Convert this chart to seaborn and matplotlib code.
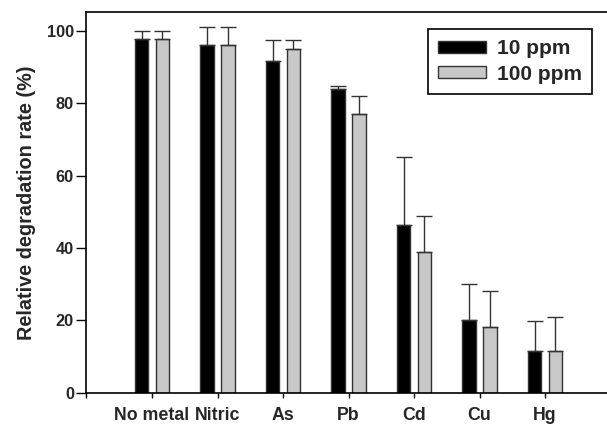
import numpy as np
import pandas as pd
import matplotlib
matplotlib.use("Agg")
import matplotlib.pyplot as plt
import seaborn as sns

metals = ["No metal", "Nitric", "As", "Pb", "Cd", "Cu", "Hg"]
series = ["10 ppm", "100 ppm"]
vals_10 = [97.9, 96.3, 91.8, 84.1, 46.3, 20.0, 11.4]
vals_100 = [97.9, 96.3, 95.0, 77.2, 38.8, 18.2, 11.4]
err_10 = [2.1, 4.9, 5.7, 0.6, 18.9, 10.2, 8.5]
err_100 = [2.1, 4.9, 2.5, 4.9, 10.1, 10.0, 9.4]
yticks = [0, 20, 40, 60, 80, 100]

df = pd.DataFrame({
    "metal": metals * 2,
    "conc": [series[0]] * len(metals) + [series[1]] * len(metals),
    "value": vals_10 + vals_100,
})

sns.set_theme(style="ticks")
plt.rcParams["font.family"] = ["Liberation Sans", "DejaVu Sans"]
plt.rcParams["font.weight"] = "bold"

fig = plt.figure(figsize=(6.07, 4.25), dpi=100)
ax = fig.add_axes([0.1425, 0.076, 0.8633, 0.895])

sns.barplot(data=df, x="metal", y="value", hue="conc", order=metals,
            hue_order=series, palette=["black", "#c8c8c8"], width=0.64,
            gap=0.34, errorbar=None, edgecolor="#333333", linewidth=1.0,
            saturation=1, ax=ax)

for cont, errs in zip(ax.containers, [err_10, err_100]):
    xs = [b.get_x() + b.get_width() / 2 for b in cont]
    hs = [b.get_height() for b in cont]
    ax.errorbar(xs, hs, yerr=[np.zeros(len(errs)), errs], fmt="none",
                ecolor="#333333", elinewidth=1.0, capsize=5.5, capthick=1.0,
                zorder=1)

ax.set_xlim(-1, 7)
ax.set_ylim(0, 105.2)
ax.set_xticks(range(-1, 8))
ax.set_xticklabels([""] + metals + [""], fontsize=12.8, fontweight="bold")
ax.set_yticks(yticks)
ax.set_yticklabels([str(t) for t in yticks], fontsize=11.8, fontweight="bold")
ax.set_xlabel("")
ax.set_ylabel("Relative degradation rate (%)", fontsize=14.3, fontweight="bold",
              labelpad=8)
ax.tick_params(axis="x", direction="out", length=3.5, width=1.0, color="black",
               pad=7)
ax.tick_params(axis="y", direction="out", length=7, width=1.0, color="black",
               pad=2)
for s in ["left", "bottom", "top", "right"]:
    ax.spines[s].set_visible(True)
    ax.spines[s].set_color("black")
    ax.spines[s].set_linewidth(1.2)

handles, labels = ax.get_legend_handles_labels()
leg = ax.legend(handles, labels, loc="upper right", bbox_to_anchor=(0.965, 0.956),
                borderaxespad=0, fancybox=False, frameon=True, framealpha=1,
                edgecolor="black", handlelength=2.3, handleheight=0.5,
                labelspacing=0.3, handletextpad=0.5, borderpad=0.5,
                prop={"size": 15, "weight": "bold"})
leg.get_frame().set_linewidth(1.2)

fig.savefig("out.png", dpi=100)
